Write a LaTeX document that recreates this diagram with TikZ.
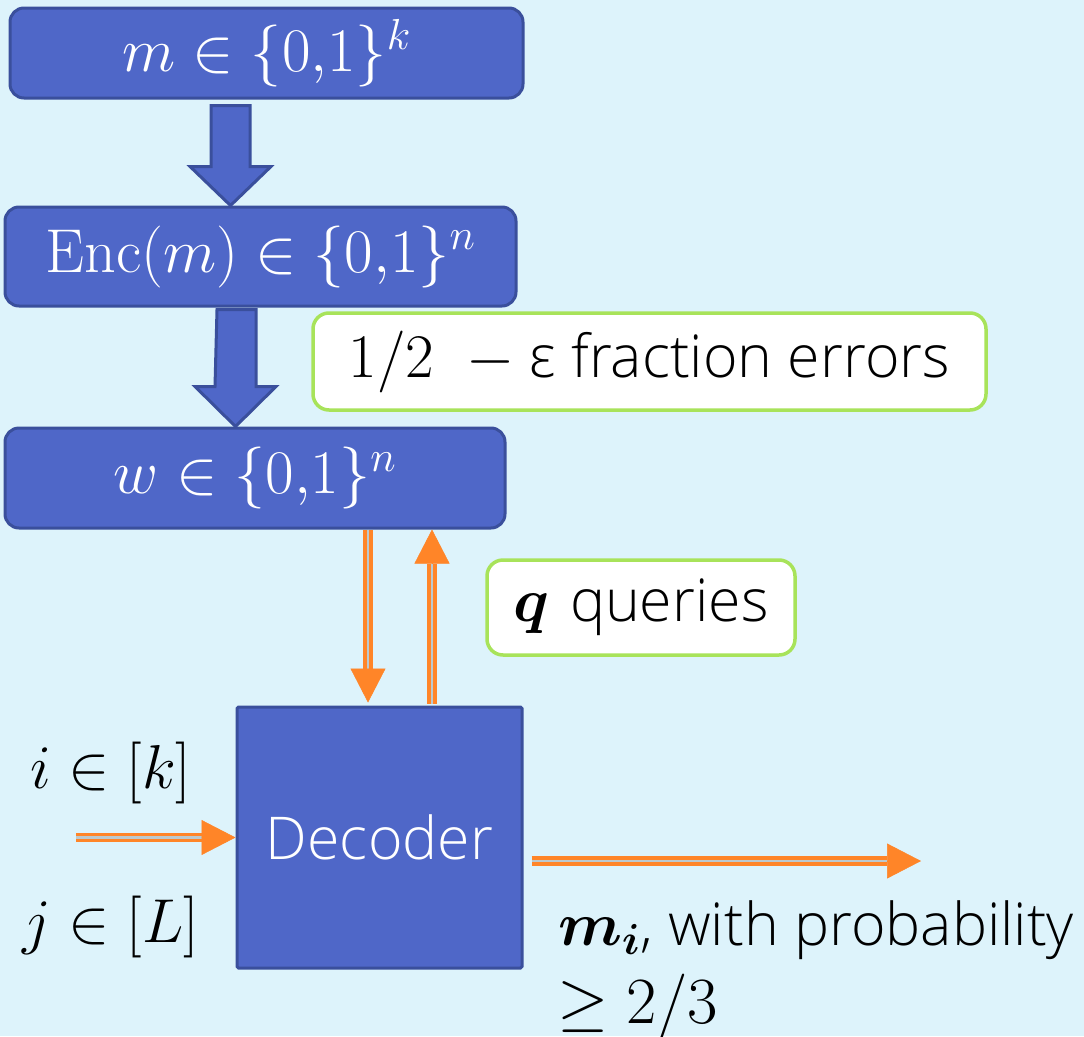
\RequirePackage{fix-cm}
\documentclass[tikz,border=0pt]{standalone}
\usepackage{amsmath,bm}
\usepackage{fontspec}
\setsansfont{Open Sans}[UprightFont={* Light}]
\usetikzlibrary{arrows.meta}
\definecolor{bgC}{HTML}{DDF3FB}
\definecolor{boxF}{HTML}{4F67C8}
\definecolor{boxB}{HTML}{3A4F9C}
\definecolor{grnC}{HTML}{A8E35A}
\definecolor{orC}{HTML}{FF8528}
\definecolor{midC}{HTML}{BCC9CE}
\newcommand{\txtsz}{\fontsize{59}{66}\selectfont}
\newcommand{\msz}{\fontsize{62}{68}\selectfont}
\begin{document}
\begin{tikzpicture}[x=1pt,y=-1pt,
  bluebox/.style={draw=boxB, fill=boxF, line width=3pt, rounded corners=14pt, text=white, inner sep=0pt, font=\msz},
  greenbox/.style={draw=grnC, fill=white, line width=3.5pt, rounded corners=16pt, inner sep=0pt, font=\txtsz\sffamily},
  decbox/.style={draw=boxB, fill=boxF, line width=3pt, rounded corners=1.5pt, text=white, inner sep=0pt, font=\txtsz\sffamily},
  blockarrow/.style={draw=boxB, fill=boxF, line width=3pt, line join=miter},
  dbl/.style={draw=orC, line width=3.5pt, double=midC, double distance=2.5pt},
  headtip/.style={draw=orC, fill=orC, line width=0.5pt, -{Triangle[width=35pt,length=34pt]}},
  lbl/.style={inner sep=0pt, font=\msz},
]
\fill[bgC] (0,0) rectangle (1084,1036);
\useasboundingbox (0,0) rectangle (1084,1036);

% boxes
\node[bluebox, minimum width=513pt, minimum height=90pt] (b1) at (266.5,53) {$m \in \{0{,}1\}^k$};
\node[bluebox, minimum width=511pt, minimum height=99pt] (b2) at (260.5,256.5) {$\mathrm{Enc}(m) \in \{0{,}1\}^n$};
\node[bluebox, minimum width=500pt, minimum height=100pt] (b3) at (255,478) {$w \in \{0{,}1\}^n$};
\node[greenbox, minimum width=673pt, minimum height=97pt] (g1) at (649.5,361.5) {{\msz$1/2\ \ {-}$}\hspace{0.25em}ε fraction errors};
\node[greenbox, minimum width=308pt, minimum height=95pt] (g2) at (641,607.5) {{\msz$\bm{q}$}\hspace{0.35em}queries};
\node[decbox, minimum width=285pt, minimum height=261pt] (dec) at (379.5,837.5) {Decoder};

% block arrows
\draw[blockarrow] ([xshift=-55.5pt, yshift=-6pt]b1.south) -- ++(39,0) -- ++(0,61) -- ++(21,0) -- ++(-40.5,39) -- ++(-40.5,-39) -- ++(21,0) -- cycle;
\draw[blockarrow] ([xshift=-43.5pt, yshift=-2pt]b2.south) -- ++(39,0) -- ++(0,77) -- ++(20,0) -- ++(-40.5,40) -- ++(-40.5,-40) -- ++(20,0) -- cycle;

% orange double arrows
\coordinate (xd) at (368,0);
\coordinate (xu) at (432,0);
\coordinate (dnS) at (b3.south -| xd);
\coordinate (dnT) at ([yshift=3pt]dec.north -| xd);
\coordinate (dnB) at ([yshift=34pt]dnT);
\draw[dbl] (dnS) -- (dnB);
\draw[headtip] (dnB) -- (dnT);

\coordinate (upS) at ([yshift=2pt]dec.north -| xu);
\coordinate (upT) at (b3.south -| xu);
\coordinate (upB) at ([yshift=-34pt]upT);
\draw[dbl] (upS) -- (upB);
\draw[headtip] (upB) -- (upT);

\coordinate (inS) at (76,837.5);
\coordinate (inT) at (dec.west);
\coordinate (inB) at ([xshift=-34pt]inT);
\draw[dbl] (inS) -- (inB);
\draw[headtip] (inB) -- (inT);

\coordinate (outE) at (921,861);
\coordinate (outS) at ([xshift=8pt]dec.east |- outE);
\coordinate (outB) at ([xshift=-34pt]outE);
\draw[dbl] (outS) -- (outB);
\draw[headtip] (outB) -- (outE);

% labels
\node[lbl, anchor=base west] (li) at (30,788) {$i \in [k]$};
\node[lbl, anchor=base west] (lj) at (22,942) {$j \in [L]$};
\node[lbl, anchor=base west, font=\txtsz\sffamily] (lm) at (558,945) {{\msz$\bm{m_i}$}, with probability};
\node[lbl, anchor=base west, font=\fontsize{66}{70}\selectfont] (lp) at (557,1023) {$\geq 2/3$};
\end{tikzpicture}
\end{document}
